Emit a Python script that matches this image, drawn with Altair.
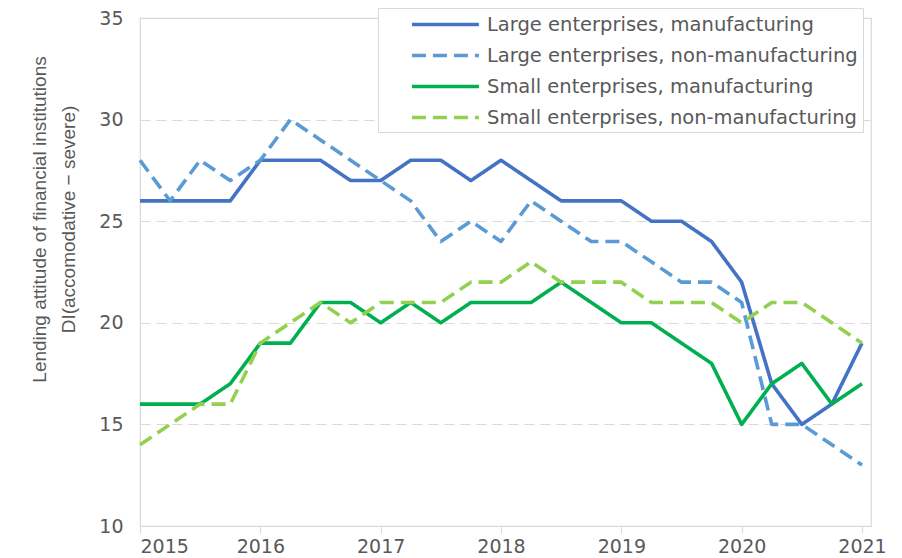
import altair as alt
import pandas as pd

# Quarterly observations, 2015Q1 .. 2021Q1 (as decimal years)
quarters = [2015.0, 2015.25, 2015.5, 2015.75,
            2016.0, 2016.25, 2016.5, 2016.75,
            2017.0, 2017.25, 2017.5, 2017.75,
            2018.0, 2018.25, 2018.5, 2018.75,
            2019.0, 2019.25, 2019.5, 2019.75,
            2020.0, 2020.25, 2020.5, 2020.75,
            2021.0]

series_names = ["Large enterprises, manufacturing",
                "Large enterprises, non-manufacturing",
                "Small enterprises, manufacturing",
                "Small enterprises, non-manufacturing"]

large_mfg = [26, 26, 26, 26, 28, 28, 28, 27, 27, 28, 28, 27, 28, 27, 26, 26,
             26, 25, 25, 24, 22, 17, 15, 16, 19]
large_nonmfg = [28, 26, 28, 27, 28, 30, 29, 28, 27, 26, 24, 25, 24, 26, 25, 24,
                24, 23, 22, 22, 21, 15, 15, 14, 13]
small_mfg = [16, 16, 16, 17, 19, 19, 21, 21, 20, 21, 20, 21, 21, 21, 22, 21,
             20, 20, 19, 18, 15, 17, 18, 16, 17]
small_nonmfg = [14, 15, 16, 16, 19, 20, 21, 20, 21, 21, 21, 22, 22, 23, 22, 22,
                22, 21, 21, 21, 20, 21, 21, 20, 19]

year_ticks = [2015, 2016, 2017, 2018, 2019, 2020, 2021]
y_ticks = [10, 15, 20, 25, 30, 35]

colors = ["#4472C4", "#5B9BD5", "#00B050", "#92D050"]
dashes = [[1, 0], [14, 7], [1, 0], [14, 7]]

rows = []
for name, vals in zip(series_names, [large_mfg, large_nonmfg, small_mfg, small_nonmfg]):
    for t, v in zip(quarters, vals):
        rows.append({"series": name, "t": t, "v": v})
df = pd.DataFrame(rows)

legend_cfg = dict(
    orient="none", legendX=238, legendY=-10, title=None,
    symbolType="M-1,0H6", symbolSize=366, symbolStrokeWidth=3.5,
    symbolFillColor="transparent",
    labelFont="DejaVu Sans", labelFontSize=19.5, labelColor="#595959",
    padding=5, symbolOffset=27, rowPadding=10, labelOffset=54,
    strokeColor="#d9d9d9", fillColor="white", labelLimit=600,
)

chart = alt.Chart(df).mark_line(strokeWidth=3.6, strokeJoin="round", strokeCap="butt").encode(
    x=alt.X("t:Q",
            scale=alt.Scale(domain=[2015, 2021.075], nice=False, zero=False),
            axis=alt.Axis(values=year_ticks, format="d", title=None, grid=False,
                          tickSize=7, labelPadding=4, domain=False,
                          tickColor="#d9d9d9", labelFontSize=19,
                          labelFont="DejaVu Sans", labelColor="#595959")),
    y=alt.Y("v:Q",
            scale=alt.Scale(domain=[10, 35], nice=False, zero=False),
            axis=alt.Axis(values=y_ticks, grid=True, gridDash=[10, 6],
                          gridColor="#d9d9d9", gridWidth=1.2, ticks=False,
                          tickSize=0, labelPadding=17, domain=False,
                          labelFontSize=19, labelFont="DejaVu Sans",
                          labelColor="#595959",
                          title=["Lending attitude of financial institutions",
                                 "DI(accomodative \u2212 severe)"],
                          titleFont="Liberation Sans", titleFontSize=19,
                          titleFontWeight="normal", titleColor="#595959",
                          titleLineHeight=29, titleAngle=270,
                          titleBaseline="middle", titleAlign="center",
                          titleX=-101, titleY=201)),
    color=alt.Color("series:N",
                    scale=alt.Scale(domain=series_names, range=colors),
                    legend=alt.Legend(**legend_cfg)),
    strokeDash=alt.StrokeDash("series:N",
                              scale=alt.Scale(domain=series_names, range=dashes),
                              legend=alt.Legend(**legend_cfg)),
    order=alt.Order("t:Q"),
).properties(
    width=731, height=508,
    autosize=alt.AutoSizeParams(type="none"),
    padding={"left": 132, "top": 10, "right": 23, "bottom": 30},
).configure_view(stroke="#d9d9d9", strokeWidth=1.2)

chart.save("out.html", embed_options={"renderer": "svg", "actions": False})
